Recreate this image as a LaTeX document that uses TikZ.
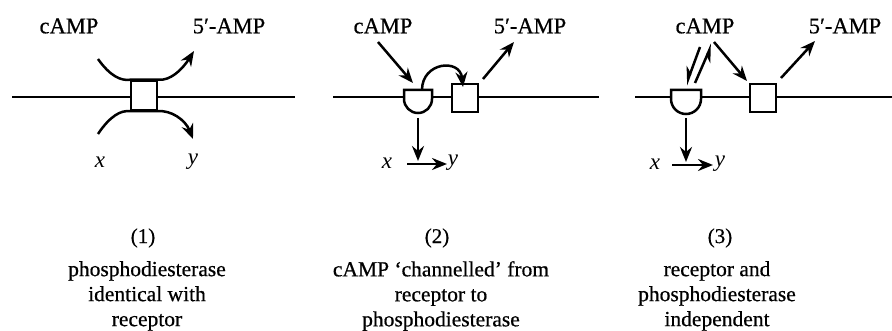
\documentclass[tikz,border=0pt]{standalone}
\usepackage{fontspec}
\setmainfont{Liberation Serif}[UprightFeatures={FakeBold=0.6}]
\usetikzlibrary{arrows.meta}
\begin{document}
\begin{tikzpicture}[x=1pt,y=-1pt,
  mem/.style={line width=2.5pt},
  arr/.style={line width=2.5pt,-{Stealth[length=15pt,width=12pt,inset=5pt]}},
  harpsw/.style={line width=2.5pt,-{Stealth[length=15pt,width=12pt,inset=5pt,harpoon,swap]}},
  sq/.style={draw,line width=2.5pt,fill=white,minimum width=26pt,minimum height=28pt,inner sep=0pt},
  semi/.style={draw,line width=2.5pt,fill=white},
  lab/.style={font=\fontsize{22.5}{26}\selectfont,inner sep=0pt},
  var/.style={font=\fontsize{23}{26}\selectfont\itshape,inner sep=0pt},
  num/.style={font=\fontsize{21}{24}\selectfont,inner sep=0pt},
  captxt/.style={font=\fontsize{21.5}{25}\selectfont,align=center,inner sep=0pt,anchor=north}]
\useasboundingbox (0,0) rectangle (892,331);

% ---------- panel 1 ----------
\coordinate (m1a) at (12,97);
\coordinate (m1b) at (295,97);
\draw[mem] (m1a) -- (m1b);
\node[sq,minimum height=29pt] (s1) at (144,95.5) {};
\coordinate (t1s) at (98,59);
\coordinate (t1e) at (194,51);
\coordinate (b1s) at (98,134);
\coordinate (b1e) at (193,139);
\draw[arr] (t1s) .. controls (110,76) and (121,81) .. (s1.north west) -- (s1.north east) .. controls (170,81) and (182,70) .. (t1e);
\draw[arr] (b1s) .. controls (110,116) and (121,110) .. (s1.south west) -- (s1.south east) .. controls (170,110) and (185,119) .. (b1e);
\node[lab] (c1) at (69,26) {cAMP};
\node[lab] (a1) at (229,26) {5′-AMP};
\node[var] (x1) at (100,162) {x};
\node[var] (y1) at (193,162) {y};
\node[num] (n1) at (143,238) {(1)};
\node[captxt] (k1) at (147,261) {phosphodiesterase\\identical with\\receptor};

% ---------- panel 2 ----------
\coordinate (m2a) at (333,97);
\coordinate (m2b) at (599,97);
\draw[mem] (m2a) -- (m2b);
\node[sq] (s2) at (465,98) {};
\draw[semi] (404,90) -- (404,99) arc[start angle=180,end angle=0,radius=14] -- (432,90) -- cycle;
\coordinate (r2b) at (418,118);
\node[lab] (c2) at (383,26) {cAMP};
\node[lab] (a2) at (530,26) {5′-AMP};
\draw[arr] (378,42) -- (413,83);
\draw[arr] (422,90) .. controls (422,62) and (460,58) .. (463,87);
\draw[arr] (483,79) -- (514,42);
\node[var] (x2) at (387,163) {x};
\node[var] (y2) at (453,163) {y};
\draw[arr] (r2b) -- (418,161);
\draw[arr] (407,164) -- (447,164);
\node[num] (n2) at (437,238) {(2)};
\node[captxt] (k2) at (441,261) {cAMP ‘channelled’ from\\receptor to\\phosphodiesterase};

% ---------- panel 3 ----------
\coordinate (m3a) at (635,97);
\coordinate (m3b) at (892,97);
\draw[mem] (m3a) -- (m3b);
\node[sq] (s3) at (763,98) {};
\draw[semi] (671,90) -- (671,99) arc[start angle=180,end angle=0,radius=15] -- (701,90) -- cycle;
\node[lab] (c3) at (705,26) {cAMP};
\node[lab] (a3) at (845,26) {5′-AMP};
\draw[harpsw] (700,47) -- (686,85);
\draw[harpsw] (695,83) -- (712,44);
\draw[arr] (714,42) -- (747,81);
\draw[arr] (781,78) -- (815,41);
\draw[arr] (686,118) -- (686,162);
\node[var] (x3) at (655,164) {x};
\node[var] (y3) at (720,164) {y};
\draw[arr] (672,165) -- (713,165);
\node[num] (n3) at (720,238) {(3)};
\node[captxt] (k3) at (717,261) {receptor and\\phosphodiesterase\\independent};
\end{tikzpicture}
\end{document}
